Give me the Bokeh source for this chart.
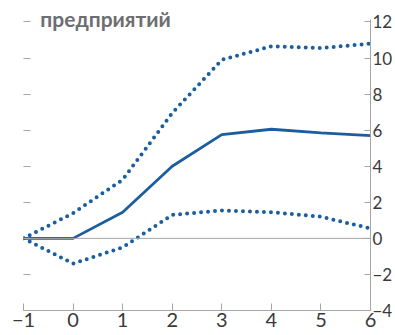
from bokeh.plotting import figure
from bokeh.models import LinearAxis, Range1d, Span, Label, FixedTicker
from bokeh.embed import file_html
from bokeh.resources import INLINE

# data
quarters = [-1, 0, 1, 2, 3, 4, 5, 6]
central = [0, 0, 1.45, 4.0, 5.75, 6.05, 5.85, 5.7]
upper = [0, 1.4, 3.25, 6.95, 9.9, 10.65, 10.55, 10.8]
lower = [0, -1.4, -0.5, 1.3, 1.55, 1.45, 1.2, 0.55]
x_ticks = [-1, 0, 1, 2, 3, 4, 5, 6]
x_tick_labels = ["\u22121", "0", "1", "2", "3", "4", "5", "6"]
y_ticks = [-4, -2, 0, 2, 4, 6, 8, 10, 12]
y_tick_labels = ["\u22124", "\u22122", "0", "2", "4", "6", "8", "10", "12"]
title_text = "предприятий"

BLUE = "#1b5e9f"
AXIS = "#a6a6a6"
FONT = "Lato"

p = figure(width=395, height=335, output_backend="svg", toolbar_location=None,
           x_range=Range1d(-1, 6), y_range=Range1d(-4, 13.19),
           x_axis_location=None, y_axis_location=None,
           min_border_left=23, min_border_top=0, min_border_right=10, min_border_bottom=25)
p.title = None
p.outline_line_color = None
p.xgrid.visible = False
p.ygrid.visible = False
p.background_fill_color = "white"

p.add_layout(Span(location=0, dimension="width", line_color=AXIS, line_width=1))

p.line(quarters, upper, line_color=BLUE, line_width=4, line_dash="0 7", line_cap="round")
p.line(quarters, lower, line_color=BLUE, line_width=4, line_dash="0 7", line_cap="round")
p.line(quarters, central, line_color=BLUE, line_width=2.8)

# bottom axis
xa = LinearAxis(ticker=FixedTicker(ticks=x_ticks))
xa.major_label_overrides = {t: l for t, l in zip(x_ticks, x_tick_labels)}
xa.axis_line_color = AXIS
xa.major_tick_line_color = AXIS
xa.major_tick_in = 7
xa.major_tick_out = 0
xa.minor_tick_line_color = None
xa.major_label_text_font = FONT
xa.major_label_text_font_size = "20px"
xa.major_label_text_color = "#3a3a3a"
xa.major_label_standoff = 2
p.add_layout(xa, "below")

# left axis: ticks only
la = LinearAxis(ticker=FixedTicker(ticks=y_ticks))
la.major_label_overrides = {t: "" for t in y_ticks}
la.axis_line_color = None
la.major_tick_line_color = AXIS
la.major_tick_in = 7
la.major_tick_out = 0
la.minor_tick_line_color = None
la.major_label_standoff = 0
p.add_layout(la, "left")

# right axis
ra = LinearAxis(ticker=FixedTicker(ticks=y_ticks), bounds=(-4, 12.15))
ra.major_label_overrides = {t: l for t, l in zip(y_ticks, y_tick_labels)}
ra.axis_line_color = AXIS
ra.major_tick_line_color = AXIS
ra.major_tick_in = 6
ra.major_tick_out = 0
ra.minor_tick_line_color = None
ra.major_label_text_font = FONT
ra.major_label_text_font_size = "17px"
ra.major_label_text_color = "#3a3a3a"
ra.major_label_standoff = 2
p.add_layout(ra, "right")

p.add_layout(Label(x=-0.66, y=12.19, text=title_text, text_font=FONT, text_font_style="bold",
                   text_font_size="21px", text_color="#6d6e71", text_baseline="alphabetic"))

open("out.html", "w").write(file_html(p, INLINE))
